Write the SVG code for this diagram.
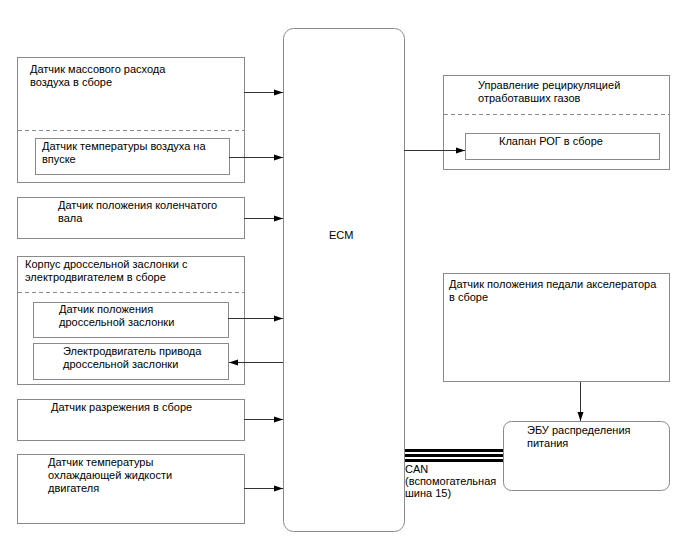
<svg xmlns="http://www.w3.org/2000/svg" width="688" height="560" viewBox="0 0 688 560">
<defs>
<marker id="ah" markerWidth="10" markerHeight="8" refX="9" refY="4" orient="auto" markerUnits="userSpaceOnUse">
<path d="M0,1 L9,4 L0,7 Z" fill="#000"/>
</marker>
<style>
.box{fill:#fff;stroke:#8a8a8a;stroke-width:1}
.dash{stroke:#8a8a8a;stroke-width:1;stroke-dasharray:4,3;fill:none}
.t{font-family:"Liberation Sans",Arial,sans-serif;font-size:11px;fill:#000}
.c{stroke:#333;stroke-width:1;fill:none}
.can{stroke:#000;stroke-width:3;fill:none}
</style>
</defs>
<rect width="688" height="560" fill="#fff"/>
<g id="ecm">
<rect class="box" x="283.5" y="28.5" width="121" height="503" rx="10"/>
<text class="t" x="329" y="239">ECM</text>
</g>
<g id="maf">
<rect class="box" x="17.5" y="57.5" width="227" height="125"/>
<text class="t" x="30" y="73">Датчик массового расхода</text>
<text class="t" x="30" y="86">воздуха в сборе</text>
<line class="dash" x1="18" y1="130.5" x2="244" y2="130.5"/>
</g>
<g id="iat">
<rect class="box" x="35.5" y="138.5" width="194" height="36"/>
<text class="t" x="42" y="150">Датчик температуры воздуха на</text>
<text class="t" x="42" y="163">впуске</text>
</g>
<g id="ckp">
<rect class="box" x="17.5" y="197.5" width="227" height="41"/>
<text class="t" x="58" y="209">Датчик положения коленчатого</text>
<text class="t" x="58" y="222">вала</text>
</g>
<g id="throttle">
<rect class="box" x="17.5" y="256.5" width="227" height="128"/>
<text class="t" x="25" y="268">Корпус дроссельной заслонки с</text>
<text class="t" x="25" y="281">электродвигателем в сборе</text>
<line class="dash" x1="18" y1="292.5" x2="244" y2="292.5"/>
</g>
<g id="tps">
<rect class="box" x="33.5" y="302.5" width="195" height="35"/>
<text class="t" x="59" y="313">Датчик положения</text>
<text class="t" x="59" y="326">дроссельной заслонки</text>
</g>
<g id="motor">
<rect class="box" x="33.5" y="343.5" width="195" height="36"/>
<text class="t" x="63" y="355">Электродвигатель привода</text>
<text class="t" x="63" y="368">дроссельной заслонки</text>
</g>
<g id="map">
<rect class="box" x="17.5" y="399.5" width="227" height="41"/>
<text class="t" x="51" y="411">Датчик разрежения в сборе</text>
</g>
<g id="ect">
<rect class="box" x="17.5" y="454.5" width="227" height="69"/>
<text class="t" x="48" y="466">Датчик температуры</text>
<text class="t" x="48" y="479">охлаждающей жидкости</text>
<text class="t" x="48" y="492">двигателя</text>
</g>
<g id="egr">
<rect class="box" x="443.5" y="75.5" width="226" height="94"/>
<text class="t" x="478" y="89">Управление рециркуляцией</text>
<text class="t" x="478" y="102">отработавших газов</text>
<line class="dash" x1="444" y1="114.5" x2="669" y2="114.5"/>
</g>
<g id="egrv">
<rect class="box" x="465.5" y="133.5" width="194" height="26"/>
<text class="t" x="499" y="145">Клапан РОГ в сборе</text>
</g>
<g id="app">
<rect class="box" x="443.5" y="273.5" width="226" height="108"/>
<text class="t" x="449" y="288">Датчик положения педали акселератора</text>
<text class="t" x="449" y="301">в сборе</text>
</g>
<g id="pdu">
<rect class="box" x="503.5" y="421.5" width="166" height="69" rx="8"/>
<text class="t" x="527" y="434">ЭБУ распределения</text>
<text class="t" x="527" y="447">питания</text>
</g>
<g id="connectors">
<line class="c" x1="244" y1="92.5" x2="283" y2="92.5" marker-end="url(#ah)"/>
<line class="c" x1="229" y1="157.5" x2="283" y2="157.5" marker-end="url(#ah)"/>
<line class="c" x1="244" y1="218.5" x2="283" y2="218.5" marker-end="url(#ah)"/>
<line class="c" x1="228" y1="318.5" x2="283" y2="318.5" marker-end="url(#ah)"/>
<line class="c" x1="283" y1="362.5" x2="229" y2="362.5" marker-end="url(#ah)"/>
<line class="c" x1="244" y1="419.5" x2="283" y2="419.5" marker-end="url(#ah)"/>
<line class="c" x1="244" y1="488.5" x2="283" y2="488.5" marker-end="url(#ah)"/>
<line class="c" x1="404" y1="150.5" x2="465" y2="150.5" marker-end="url(#ah)"/>
<line class="c" x1="580.5" y1="382" x2="580.5" y2="421" marker-end="url(#ah)"/>
<line class="can" x1="405" y1="450.5" x2="503" y2="450.5"/>
<line class="can" x1="405" y1="455.5" x2="503" y2="455.5"/>
<line class="can" x1="405" y1="460.5" x2="503" y2="460.5"/>
<text class="t" x="405" y="473">CAN</text>
<text class="t" x="405" y="485">(вспомогательная</text>
<text class="t" x="405" y="497">шина 15)</text>
</g>
</svg>
